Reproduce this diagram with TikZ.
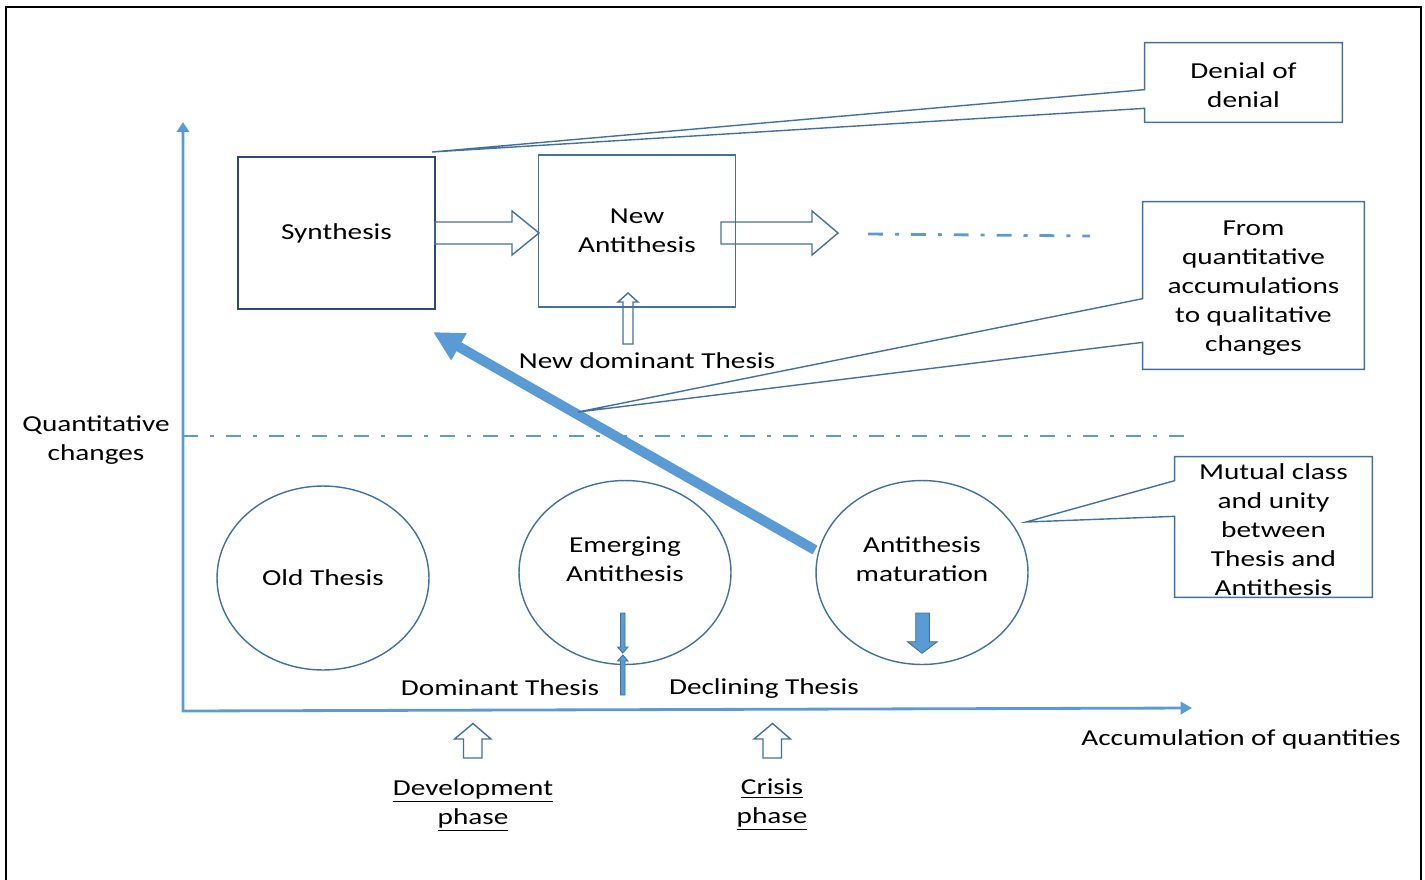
\documentclass[tikz,border=0pt]{standalone}
\usepackage{fontspec}
\setmainfont{Carlito}[FakeStretch=1.28]
\usepackage{tikz}
\usetikzlibrary{positioning}
\usetikzlibrary{arrows.meta}
\usetikzlibrary{shapes,calc}
\definecolor{axisblue}{HTML}{5B9BD5}
\definecolor{edgeblue}{HTML}{41719C}
\definecolor{darkedge}{HTML}{2E4B6E}
\tikzset{phase box/.style={draw=edgeblue,line width=0.8pt,minimum width=3.94cm,minimum height=3.04cm,inner sep=0pt,align=center},
  stage node/.style={ellipse,draw=edgeblue,line width=0.8pt,minimum width=4.24cm,minimum height=3.68cm,inner sep=0pt},
  note/.style={align=center,inner sep=0pt,yshift=-1.5pt},
  callout/.style={draw=edgeblue,line width=0.8pt,line join=miter},
  hollow/.style={draw=edgeblue,line width=0.8pt,line join=miter},
  solid block/.style={draw=edgeblue,line width=0.5pt,fill=axisblue},
  axis line/.style={axisblue,line width=1.6pt},
  dash dot/.style={axisblue,line width=1.6pt,dash pattern=on 8.5pt off 6.8pt on 2.3pt off 6.8pt},
}

\begin{document}
\begin{tikzpicture}[x=0.02cm, y=-0.02cm, font=\fontsize{13}{16.5}\selectfont]
    \useasboundingbox (0,0) rectangle (1425,879);
    \draw[line width=1.1pt] (6,890) -- (6,7) -- (1421,7) -- (1421,890);

    % axes
    \coordinate (origin) at (183,711);
    \coordinate (ytop) at (183,122);
    \coordinate (xend) at (1192,708);
    \draw[axis line, {Triangle[length=5.7pt,width=7pt]}-{Triangle[length=6.5pt,width=7pt]}] (ytop) -- (origin) -- (xend);
    \node[note] (qchange) at (96,437) {Quantitative\\changes};
    \node[note] (accum) at (1241,737) {Accumulation of quantities};
    \draw[dash dot] (183,436) -- (1192,436);

    % upper level
    \node[phase box, draw=darkedge] (syn) at (336.5,233) {Synthesis};
    \node[phase box] (newanti) at (637,231) {New\\Antithesis};
    \draw[hollow] (435,222) -- (512,222) -- (512,211) -- (539,233) -- (512,255) -- (512,244) -- (435,244) -- cycle;
    \draw[hollow] (721,222) -- (812,222) -- (812,211) -- (838,233) -- (812,255) -- (812,244) -- (721,244) -- cycle;
    \draw[dash dot] (868,234) -- (1090,236);
    \draw[hollow] (623,344) -- (623,302) -- (618,302) -- (628,293) -- (638,302) -- (633,302) -- (633,344) -- cycle;
    \node[note] (newdom) at (647,358) {New dominant Thesis};

    % lower level
    \node[stage node] (old) at (323,578) {Old Thesis};
    \node[stage node] (emerg) at (625,572.5) {};
    \node[note] (emergtxt) at ($(emerg)+(0,-16)$) {Emerging\\Antithesis};
    \node[stage node] (mature) at (922,572.5) {};
    \node[note] (maturetxt) at ($(mature)+(0,-16)$) {Antithesis\\maturation};
    \draw[solid block] (620.5,613) -- (625,613) -- (625,647) -- (628,647) -- (622.8,653) -- (617.5,647) -- (620.5,647) -- cycle;
    \draw[solid block] (620.5,695) -- (625,695) -- (625,661) -- (628,661) -- (622.8,655) -- (617.5,661) -- (620.5,661) -- cycle;
    \draw[solid block] (915.7,613) -- (929.3,613) -- (929.3,641.7) -- (937.3,641.7) -- (922,653.3) -- (907.3,641.7) -- (915.7,641.7) -- cycle;
    \node[note] (dom) at (500,685) {Dominant Thesis};
    \node[note] (decl) at (764,686) {Declining Thesis};

    % rise to synthesis
    \coordinate (riseS) at (815,550);
    \coordinate (riseE) at (433,332);
    \draw[axisblue, line width=5.7pt, -{Triangle[length=17pt,width=16.5pt]}] (riseS) -- (riseE);

    % phases
    \foreach \cx in {473,772.5}
        \draw[hollow, shift={(\cx,0)}] (-9.5,758) -- (-9.5,739) -- (-18.5,739) -- (0,723.5) -- (18,739) -- (9,739) -- (9,758) -- cycle;
    \node[note] (devph) at (473,803) {\underline{Development}\\\underline{phase}};
    \node[note] (crisph) at (772,802) {\underline{Crisis}\\\underline{phase}};

    % callouts
    \node[note, minimum width=3.94cm, minimum height=1.58cm] (denial) at (1243.5,82.5) {Denial of\\denial};
    \node[note, minimum width=4.42cm, minimum height=3.34cm] (fromq) at (1253.5,285.5) {From\\quantitative\\accumulations\\to qualitative\\changes};
    \node[note, minimum width=3.94cm, minimum height=2.8cm] (mutual) at (1273.5,527) {Mutual class\\and unity\\between\\Thesis and\\Antithesis};
    \coordinate (denialtip) at (432,152);
    \coordinate (fromtip) at (578,412);
    \coordinate (mutualtip) at (1026,522);
    \draw[callout] ([yshift=1.5pt]denial.north west) -- ([yshift=1.5pt]denial.north east) -- ([yshift=1.5pt]denial.south east) -- ([yshift=1.5pt]denial.south west)
        -- ($([yshift=1.5pt]denial.south west)+(0,-14)$) -- (denialtip) -- ($([yshift=1.5pt]denial.north west)+(0,47)$) -- cycle;
    \draw[callout] ([yshift=1.5pt]fromq.north west) -- ([yshift=1.5pt]fromq.north east) -- ([yshift=1.5pt]fromq.south east) -- ([yshift=1.5pt]fromq.south west)
        -- ($([yshift=1.5pt]fromq.south west)+(0,-27)$) -- (fromtip) -- ($([yshift=1.5pt]fromq.north west)+(0,97)$) -- cycle;
    \draw[callout] ([yshift=1.5pt]mutual.north west) -- ([yshift=1.5pt]mutual.north east) -- ([yshift=1.5pt]mutual.south east) -- ([yshift=1.5pt]mutual.south west)
        -- ($([yshift=1.5pt]mutual.south west)+(0,-81)$) -- (mutualtip) -- ($([yshift=1.5pt]mutual.north west)+(0,24)$) -- cycle;
\end{tikzpicture}
\end{document}
